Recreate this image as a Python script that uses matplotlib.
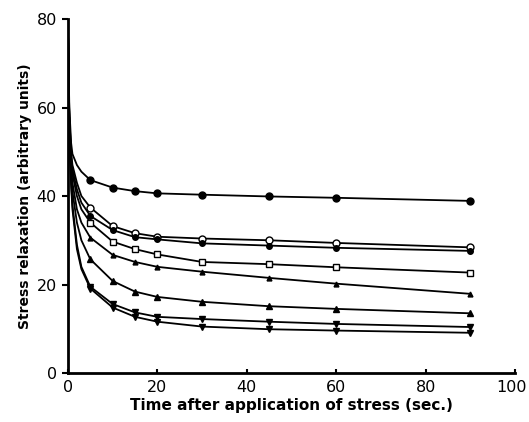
import numpy as np
import matplotlib
matplotlib.use("Agg")
import matplotlib.pyplot as plt
import matplotlib.transforms as mtransforms

# Line vertices (seconds); markers only sit on the measured times
t_line = [0, 0.3, 0.7, 1, 2, 3, 5, 10, 15, 20, 30, 45, 60, 90]
t_mark = [5, 10, 15, 20, 30, 45, 60, 90]

# Stress relaxation values, top curve to bottom
c1 = [78, 60, 52, 49.5, 47, 45.5, 43.6, 41.9, 41.1, 40.6, 40.3, 39.9, 39.6, 38.9]
c2 = [78, 58, 50, 47, 43, 40, 37.4, 33.2, 31.6, 30.8, 30.4, 30.0, 29.4, 28.4]
c3 = [78, 58, 49, 46, 41.5, 38.5, 35.5, 32.3, 30.7, 30.2, 29.3, 28.8, 28.3, 27.6]
c4 = [78, 57, 48, 45, 40, 37, 34.0, 29.7, 28.0, 26.8, 25.1, 24.6, 23.9, 22.7]
c5 = [78, 56, 46.5, 43, 37, 34, 30.6, 26.7, 25.1, 24.0, 22.9, 21.5, 20.2, 17.9]
c6 = [78, 55, 45, 41, 34, 30, 25.7, 20.8, 18.4, 17.2, 16.1, 15.1, 14.5, 13.5]
c7 = [78, 54, 43, 38, 29, 24, 19.5, 15.6, 13.7, 12.7, 12.2, 11.6, 11.1, 10.4]
c8 = [78, 54, 42.5, 37, 28, 23.5, 19.1, 14.8, 12.7, 11.6, 10.5, 9.9, 9.6, 9.1]

curves = [c1, c2, c3, c4, c5, c6, c7, c8]
markers = ["o", "o", "o", "s", "^", "^", "v", "v"]
filled = [True, False, True, False, True, True, True, True]
msizes = [5, 5, 4, 4, 3.5, 4.5, 4, 4]

fig = plt.figure(figsize=(5.29, 4.22), dpi=100)
ax = fig.add_axes([0.1285, 0.116, 0.845, 0.839])

n_skip = len(t_line) - len(t_mark)
for vals, m, f, ms in zip(curves, markers, filled, msizes):
    ax.plot(t_line, vals, color="black", lw=1.3, solid_capstyle="round")
    ax.plot(t_mark, vals[n_skip:], linestyle="none", marker=m, ms=ms,
            markerfacecolor="black" if f else "white",
            markeredgecolor="black", markeredgewidth=1.0)

ax.set_xlim(0, 100)
ax.set_ylim(0, 80)
ax.set_xticks([0, 20, 40, 60, 80, 100])
ax.set_yticks([0, 20, 40, 60, 80])

for s in ["top", "right"]:
    ax.spines[s].set_visible(False)
for s in ["left", "bottom"]:
    ax.spines[s].set_linewidth(2)

ax.tick_params(axis="y", direction="out", length=4, width=1.5, labelsize=11.5, pad=4)
ax.tick_params(axis="x", direction="in", length=3, width=1.5, labelsize=11.5, pad=5)

# nudge the "100" label so it stays inside the figure
last = ax.get_xticklabels()[-1]
last.set_transform(last.get_transform() +
                   mtransforms.ScaledTranslation(-3 / 100, 0, fig.dpi_scale_trans))

ax.set_xlabel("Time after application of stress (sec.)", fontsize=11,
              fontweight="bold", labelpad=2)
ax.set_ylabel("Stress relaxation (arbitrary units)", fontsize=10,
              fontweight="bold", labelpad=3)

fig.savefig("out.png", dpi=100)
